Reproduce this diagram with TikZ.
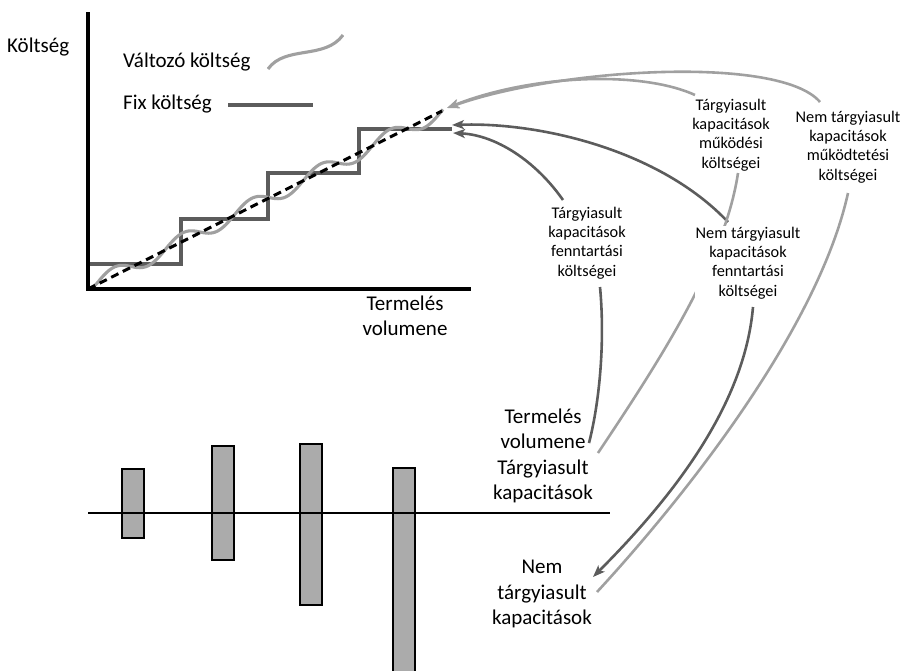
\documentclass[tikz,border=0pt]{standalone}
\usepackage{fontspec}
\setmainfont{Carlito}
\usetikzlibrary{arrows.meta,calc}
\pgfdeclarelayer{bg}
\pgfsetlayers{bg,main}

\definecolor{darkline}{HTML}{5C5C5C}
\definecolor{lightline}{HTML}{A0A0A0}
\definecolor{barfill}{HTML}{ABABAB}

\begin{document}
\begin{tikzpicture}[x=1pt,y=-1pt,
  big/.style={font=\fontsize{21}{25.5}\selectfont, align=center, inner sep=0pt},
  small/.style={font=\fontsize{16.3}{19.2}\selectfont, align=center, inner sep=1pt, fill=white},
  axisline/.style={line width=3.3pt, black},
  stairline/.style={line width=3.1pt, darkline},
  waveline/.style={line width=3.1pt, lightline},
  trendline/.style={line width=3pt, black, dash pattern=on 8pt off 5pt},
  darkarc/.style={draw=darkline, line width=2.6pt},
  lightarc/.style={draw=lightline, line width=2.6pt},
  arrowend/.style={-{Stealth[length=12pt,width=9pt,inset=3pt]}},
  barbox/.style={draw=black, fill=barfill, line width=2.6pt}]
\useasboundingbox (0,0) rectangle (901,670);

% ---- cost chart ----
\coordinate (origin) at (88,289);
\coordinate (ytop) at (88,12);
\coordinate (xend) at (471,289);

\draw[stairline] (88,264) -| (181,219) -| (268,173) -| (359,129) -- (452,129);
\draw[waveline] plot[domain=88:443, samples=240, smooth]
  (\x, {288-0.5*(\x-88) + 7.8*min(1,(\x-88)/12)*sin(360*((\x-131)/69))});
\draw[trendline] (origin) -- (442,111);
\draw[axisline] (ytop) -- (origin) -- (xend);

\coordinate (wavetip) at (447,108);
\coordinate (stairtipA) at (452,125);
\coordinate (stairtipB) at (453,133);

% legend
\node[big, anchor=base west] (ylabel) at (7,52) {Költség};
\node[big, anchor=base west] (varlabel) at (123,67) {Változó költség};
\node[big, anchor=base west] (fixlabel) at (123,109) {Fix költség};
\draw[waveline] (268,69) .. controls (285,45) and (325,60) .. (343,35);
\draw[stairline] (228,105) -- (313,105);

\node[big] (xlabel) at (405,316) {Termelés\\volumene};

% ---- cost labels ----
\node[small] (lblA) at (731,135) {Tárgyiasult\\kapacitások\\működési\\költségei};
\node[small] (lblB) at (848,147) {Nem tárgyiasult\\kapacitások\\működtetési\\költségei};
\node[small] (lblC) at (587,243) {Tárgyiasult\\kapacitások\\fenntartási\\költségei};
\node[small] (lblD) at (748,263) {Nem tárgyiasult\\kapacitások\\fenntartási\\költségei};

\node[big] (lblE) at (543,456) {Termelés\\volumene\\Tárgyiasult\\kapacitások};
\node[big] (lblF) at (542,594) {Nem\\tárgyiasult\\kapacitások};

% ---- connectors ----
\begin{pgfonlayer}{bg}
  \path[lightarc, arrowend] ($(lblB.center)+(-28,-45)$)
    .. controls (780,55) and (560,68) .. (wavetip);
  \path[lightarc, arrowend] ($(lblA.center)+(-36,-40)$)
    .. controls (640,70) and (530,75) .. (wavetip);
  \path[darkarc, arrowend] ($(lblD.center)+(-20,-41)$)
    .. controls (660,150) and (540,122) .. (stairtipA);
  \path[darkarc, arrowend] ($(lblC.center)+(-24,-43)$)
    .. controls (535,160) and (495,135) .. (stairtipB);
  \path[lightarc] ($(lblA.center)+(7,38)$)
    .. controls (725,260) and (660,360) .. ($(lblE.center)+(55,-3)$);
  \path[darkarc] ($(lblC.center)+(13,44)$)
    .. controls (605,340) and (600,400) .. ($(lblE.center)+(46,-13)$);
  \path[darkarc, arrowend] ($(lblD.center)+(5,44)$)
    .. controls (745,400) and (680,490) .. ($(lblF.center)+(51,-17)$);
  \path[lightarc] ($(lblB.center)+(0,46)$)
    .. controls (820,320) and (700,480) .. ($(lblF.center)+(55,-2)$);
\end{pgfonlayer}

% ---- capacity bars ----
\draw[barbox] (122,469) rectangle (144,538);
\draw[barbox] (212,446) rectangle (234,560);
\draw[barbox] (300,444) rectangle (322,605);
\draw[barbox] (393,468) rectangle (415,675);
\coordinate (baseL) at (88,513);
\coordinate (baseR) at (610,513);
\draw[axisline, line width=2.7pt] (baseL) -- (baseR);
\end{tikzpicture}
\end{document}
